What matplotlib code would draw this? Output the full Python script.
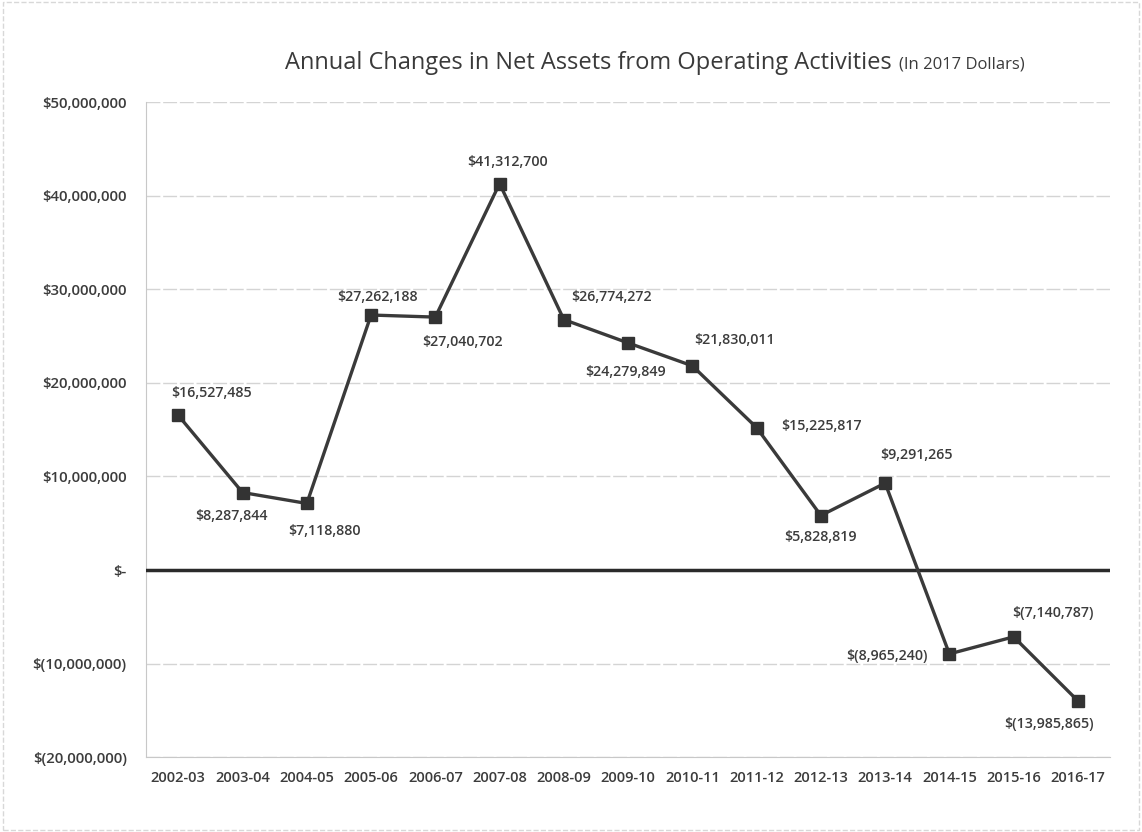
import matplotlib
matplotlib.use("Agg")
import matplotlib.pyplot as plt
import numpy as np

plt.rcParams['font.family'] = ['Open Sans', 'DejaVu Sans']

years = ['2002-03', '2003-04', '2004-05', '2005-06', '2006-07', '2007-08', '2008-09',
         '2009-10', '2010-11', '2011-12', '2012-13', '2013-14', '2014-15', '2015-16', '2016-17']
net_change = [16527485, 8287844, 7118880, 27262188, 27040702, 41312700, 26774272,
              24279849, 21830011, 15225817, 5828819, 9291265, -8965240, -7140787, -13985865]
# where each data label sits relative to its point (pixels)
label_off = [(33, 22), (-11, -23), (18, -28), (6, 18), (27, -25), (8, 22), (48, 23),
             (-3, -29), (42, 26), (65, 2), (0, -21), (31, 28), (-62, -2), (39, 24), (-29, -23)]
y_ticks = [-20000000, -10000000, 0, 10000000, 20000000, 30000000, 40000000, 50000000]


def dollars(v):
    if v == 0:
        return '$-'
    if v < 0:
        return '$({:,.0f})'.format(-v)
    return '${:,.0f}'.format(v)


fig = plt.figure(figsize=(11.42, 8.32), dpi=100)
ax = fig.add_axes([0.128, 0.090, 0.844, 0.787])

x = np.arange(len(years))
ax.plot(x, net_change, color='#3a3a3a', linewidth=2.4, marker='s', markersize=8,
        markerfacecolor='#333333', markeredgecolor='#333333', zorder=4)

for i, v in enumerate(net_change):
    dx, dy = label_off[i]
    ax.annotate(dollars(v), (x[i], v), xytext=(dx, dy), textcoords='offset pixels',
                ha='center', va='center', fontsize=10.3, fontweight='semibold',
                color='#3c3c3c', zorder=5)

ax.set_xlim(-0.5, len(years) - 0.5)
ax.set_ylim(-20000000, 50000000)
ax.set_yticks(y_ticks)
ax.set_yticklabels([dollars(t) for t in y_ticks], fontsize=10.8, color='#3c3c3c',
                   fontweight='semibold')
ax.set_xticks(x)
ax.set_xticklabels(years, fontsize=10.5, color='#3c3c3c', fontweight='semibold')
ax.tick_params(axis='x', length=0, pad=10)
ax.tick_params(axis='y', length=0, pad=14)

ax.grid(axis='y', color='#d4d4d4', linewidth=1.0, linestyle='--', dashes=(10, 2))
ax.set_axisbelow(True)
ax.axhline(0, color='#2a2a2a', linewidth=2.5, zorder=3)

for side in ['top', 'right']:
    ax.spines[side].set_visible(False)
ax.spines['left'].set_color('#c8c8c8')
ax.spines['bottom'].set_color('#c8c8c8')

# title in two parts, the second one smaller and right after the first
t1 = fig.text(285 / 1142, 0.924, 'Annual Changes in Net Assets from Operating Activities',
              fontsize=17, color='#3a3a3a', ha='left', va='center')
fig.canvas.draw()
bb = t1.get_window_extent()
fig.text((bb.x1 + 7) / 1142, 0.922, '(In 2017 Dollars)', fontsize=12, color='#3a3a3a',
         ha='left', va='center')

# thin frame round the chart
frame = plt.Rectangle((0.003, 0.003), 0.994, 0.994, transform=fig.transFigure, fill=False,
                      edgecolor='#d8d8d8', linewidth=1.0, linestyle='--')
fig.patches.append(frame)

fig.savefig('out.png', dpi=100)
